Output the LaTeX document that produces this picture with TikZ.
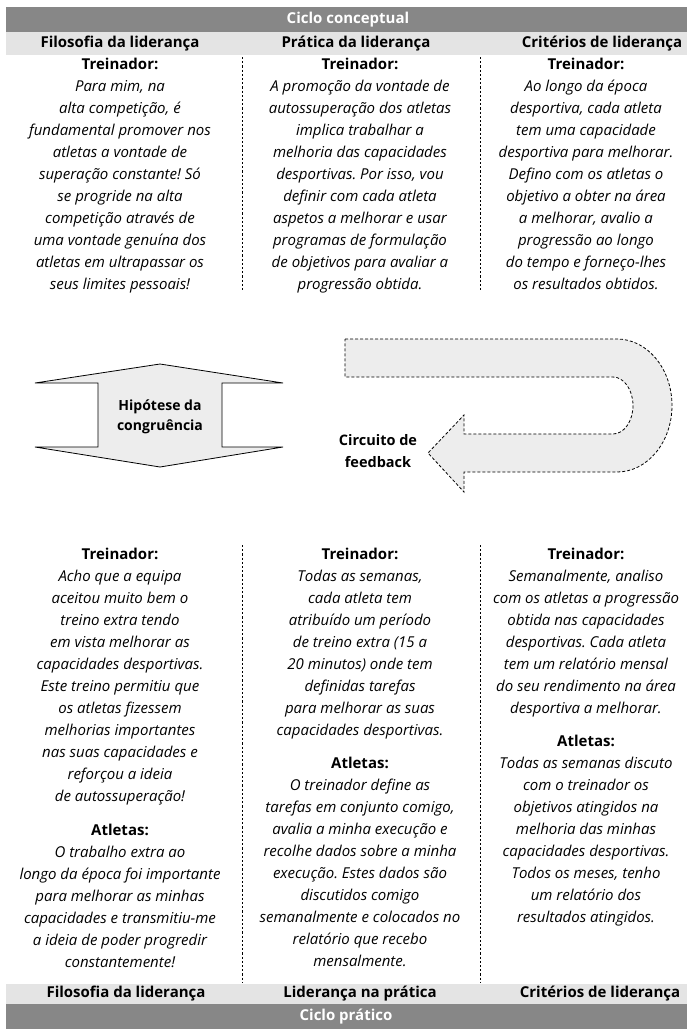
\documentclass[tikz,border=0pt]{standalone}
\usepackage{fontspec}
\setmainfont{Open Sans}
\usetikzlibrary{positioning}
\definecolor{bardark}{RGB}{135,135,135}
\definecolor{barlight}{RGB}{228,228,228}
\definecolor{shapefill}{RGB}{237,237,237}
\frenchspacing

\begin{document}
\begin{tikzpicture}[x=1pt,y=-1pt,
    block/.style={align=center,inner sep=0pt,font={\itshape\fontsize{15}{22}\selectfont}},
    hdr/.style={inner sep=0pt,font={\bfseries\fontsize{15}{16}\selectfont}},
    divider/.style={line width=0.9pt,dash pattern=on 2.2pt off 2pt},
    loopline/.style={line width=0.8pt,dash pattern=on 3pt off 2pt,fill=shapefill}]
    \useasboundingbox (0,0) rectangle (692,1029);

    % bars
    \fill[bardark]  (6,7) rectangle (687,32);
    \fill[barlight] (6,32) rectangle (687,55);
    \fill[barlight] (6,984) rectangle (687,1004);
    \fill[bardark]  (6,1004) rectangle (687,1029);

    \node[hdr,text=white] (cconc) at (348,19.5) {Ciclo conceptual};
    \node[hdr] (hfilo) at (120,43.5) {Filosofia da liderança};
    \node[hdr] (hprat) at (356,43.5) {Prática da liderança};
    \node[hdr] (hcrit) at (602,43.5) {Critérios de liderança};
    \node[hdr] (bfilo) at (126,994) {Filosofia da liderança};
    \node[hdr] (bprat) at (360,994) {Liderança na prática};
    \node[hdr] (bcrit) at (600,994) {Critérios de liderança};
    \node[hdr,text=white] (cprat) at (346,1016.5) {Ciclo prático};

    \foreach \x in {242, 480} {
      \draw[divider] (\x,57) -- (\x,290);
      \draw[divider] (\x,545) -- (\x,982);
    }

    % conceptual cycle
    \node[block,anchor=north] (tfilo) at (120,58) {\textup{\textbf{Treinador:}}\\
      Para mim, na\\ alta competição, é\\ fundamental promover nos\\
      atletas a vontade de\\ superação constante! Só\\ se progride na alta\\
      competição através de\\ uma vontade genuína dos\\
      atletas em ultrapassar os\\ seus limites pessoais!};
    \node[block,anchor=north] (tprat) at (360,58) {\textup{\textbf{Treinador:}}\\
      A promoção da vontade de\\ autossuperação dos atletas\\ implica trabalhar a\\
      melhoria das capacidades\\ desportivas. Por isso, vou\\ definir com cada atleta\\
      aspetos a melhorar e usar\\ programas de formulação\\
      de objetivos para avaliar a\\ progressão obtida.};
    \node[block,anchor=north] (tcrit) at (586,58) {\textup{\textbf{Treinador:}}\\
      Ao longo da época\\ desportiva, cada atleta\\ tem uma capacidade\\
      desportiva para melhorar.\\ Defino com os atletas o\\ objetivo a obter na área\\
      a melhorar, avalio a\\ progressão ao longo\\
      do tempo e forneço-lhes\\ os resultados obtidos.};

    % hypothesis
    \filldraw[fill=shapefill,line width=0.8pt] (160,364) -- (35,383) -- (98,383) -- (98,447)
      -- (35,447) -- (160,467) -- (283,447) -- (222,447) -- (222,383) -- (283,383) -- cycle;
    \node[hdr,align=center,font={\bfseries\fontsize{14}{20}\selectfont}] (hyp) at (160,417)
      {Hipótese da\\ congruência};

    % feedback loop
    \draw[loopline] (345,339) -- (617,339)
      .. controls (647.4,339) and (672,368.8) .. (672,405.5)
      .. controls (672,442.2) and (647.4,472) .. (617,472)
      -- (464,472) -- (464,492) -- (428,453) -- (464,415) -- (464,434) -- (613,434)
      .. controls (624,434) and (633,421.2) .. (633,405.5)
      .. controls (633,389.8) and (624,377) .. (613,377)
      -- (345,377) -- cycle;
    \node[hdr,align=center,font={\bfseries\fontsize{14.5}{22}\selectfont}] (loop) at (378,451)
      {Circuito de\\ feedback};

    % practical cycle
    \node[block,anchor=north] (pfilo) at (120,548) {\textup{\textbf{Treinador:}}\\
      Acho que a equipa\\ aceitou muito bem o\\ treino extra tendo\\
      em vista melhorar as\\ capacidades desportivas.\\ Este treino permitiu que\\
      os atletas fizessem\\ melhorias importantes\\ nas suas capacidades e\\
      reforçou a ideia\\ de autossuperação!};
    \node[block,anchor=north] (pprat) at (360,548) {\textup{\textbf{Treinador:}}\\
      Todas as semanas,\\ cada atleta tem\\ atribuído um período\\
      de treino extra (15 a\\ 20 minutos) onde tem\\ definidas tarefas\\
      para melhorar as suas\\ capacidades desportivas.};
    \node[block,anchor=north] (pcrit) at (586,548) {\textup{\textbf{Treinador:}}\\
      Semanalmente, analiso\\ com os atletas a progressão\\ obtida nas capacidades\\
      desportivas. Cada atleta\\ tem um relatório mensal\\ do seu rendimento na área\\
      desportiva a melhorar.};

    \node[block,below=18pt of pfilo] (afilo) {\textup{\textbf{Atletas:}}\\
      O trabalho extra ao\\ longo da época foi importante\\ para melhorar as minhas\\
      capacidades e transmitiu-me\\ a ideia de poder progredir\\ constantemente!};
    \node[block,below=18pt of pprat] (aprat) {\textup{\textbf{Atletas:}}\\
      O treinador define as\\ tarefas em conjunto comigo,\\ avalia a minha execução e\\
      recolhe dados sobre a minha\\ execução. Estes dados são\\ discutidos comigo\\
      semanalmente e colocados no\\ relatório que recebo\\ mensalmente.};
    \node[block,below=18pt of pcrit] (acrit) {\textup{\textbf{Atletas:}}\\
      Todas as semanas discuto\\ com o treinador os\\ objetivos atingidos na\\
      melhoria das minhas\\ capacidades desportivas.\\ Todos os meses, tenho\\
      um relatório dos\\ resultados atingidos.};
\end{tikzpicture}
\end{document}
